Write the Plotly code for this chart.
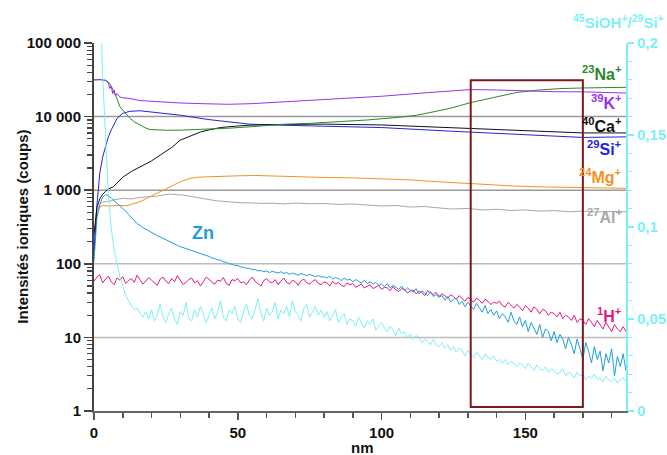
import plotly.graph_objects as go

# ---------------- data ----------------
# Common 1-nm depth grid for the noisy signals (Zn, H, SiOH/Si ratio)
DEPTH_NM = list(range(0, 186))

ZN = [110, 420, 640, 800, 870, 845, 785, 725, 665, 605, 560, 520, 470, 430, 392, 352, 335, 310, 296, 280,
      268, 256, 241, 232, 221, 211, 202, 193, 186, 178, 171, 166, 160, 155, 150, 146, 141, 137, 133, 129,
      126, 120, 118, 113, 112, 106, 105, 100, 99, 95, 95, 90, 90, 87, 87, 83, 84, 80, 81, 78,
      80, 76, 79, 77, 75, 78, 74, 76, 72, 75, 73, 70, 74, 71, 69, 72, 70, 67, 69, 66,
      67, 64, 68, 62, 65, 63, 59, 64, 60, 62, 57, 61, 58, 55, 60, 54, 57, 53, 56, 51,
      53, 49, 54, 47, 51, 48, 45, 50, 43, 47, 44, 41, 46, 39, 43, 40, 37, 42, 36, 38,
      35, 37, 32, 36, 30, 33, 34, 28, 31, 26, 30, 27, 24, 29, 25, 22, 27, 21, 24, 20,
      23, 18, 21, 19, 16, 22, 17, 15, 19, 14, 17, 12, 16, 13, 11, 15, 10, 13, 12, 9,
      12, 8.5, 11, 9.5, 7, 10, 8, 6, 9.5, 7, 5, 8.5, 6.5, 4.5, 7.5, 5, 6.5, 3.5, 6, 4.5, 7, 3, 5.5, 4, 6, 3.5]

H = [58, 66, 71, 55, 62, 68, 57, 52, 64, 60, 67, 54, 59, 63, 56, 70, 61, 53, 58, 65,
     60, 55, 51, 62, 66, 58, 54, 63, 57, 69, 60, 52, 56, 61, 64, 55, 59, 50, 57, 66,
     62, 56, 53, 60, 58, 65, 54, 51, 61, 59, 63, 55, 57, 52, 60, 66, 58, 54, 50, 59,
     63, 57, 55, 61, 52, 58, 64, 56, 53, 60, 57, 51, 59, 62, 55, 53, 58, 61, 54, 52,
     57, 55, 50, 58, 53, 56, 51, 49, 55, 52, 54, 48, 51, 53, 47, 50, 52, 46, 49, 51,
     45, 48, 47, 43, 49, 44, 42, 46, 45, 40, 43, 44, 39, 42, 41, 37, 43, 40, 38, 41,
     36, 39, 37, 34, 38, 36, 33, 37, 34, 31, 35, 33, 30, 34, 32, 29, 33, 31, 28, 30,
     29, 31, 27, 26, 30, 27, 25, 28, 26, 23, 27, 25, 22, 26, 24, 21, 24, 23, 20, 22,
     21, 19, 22, 18, 20, 19, 17, 20, 16, 18, 17, 15, 18, 16, 14, 17, 15, 13, 16, 14, 12, 15, 13, 12, 14, 12]

RATIO_SIOH_SI = [0.55, 0.36, 0.235, 0.182, 0.148, 0.118, 0.099, 0.088, 0.080, 0.073, 0.068, 0.063, 0.060, 0.057, 0.055, 0.056,
                 0.053, 0.051, 0.054, 0.050,
                 0.055, 0.049, 0.052, 0.058, 0.051, 0.048, 0.053, 0.056, 0.050, 0.047, 0.054, 0.052, 0.059, 0.050, 0.049, 0.055, 0.051, 0.057, 0.053, 0.048,
                 0.052, 0.056, 0.050, 0.054, 0.060, 0.051, 0.049, 0.055, 0.053, 0.057, 0.050, 0.048, 0.054, 0.058, 0.052, 0.050, 0.055, 0.061, 0.053, 0.049,
                 0.056, 0.052, 0.054, 0.059, 0.050, 0.055, 0.053, 0.057, 0.051, 0.060, 0.054, 0.052, 0.049, 0.056, 0.058, 0.051, 0.054, 0.057, 0.052, 0.055,
                 0.051, 0.054, 0.049, 0.052, 0.055, 0.048, 0.051, 0.053, 0.047, 0.050, 0.049, 0.046, 0.051, 0.048, 0.045, 0.049, 0.047, 0.050, 0.044, 0.046,
                 0.048, 0.045, 0.043, 0.046, 0.044, 0.041, 0.045, 0.042, 0.043, 0.040, 0.042, 0.039, 0.041, 0.040, 0.037, 0.039, 0.038, 0.036, 0.039, 0.036,
                 0.035, 0.037, 0.034, 0.036, 0.033, 0.035, 0.032, 0.034, 0.033, 0.030, 0.033, 0.031, 0.029, 0.032, 0.030, 0.028, 0.031, 0.029, 0.028, 0.030,
                 0.027, 0.028, 0.026, 0.028, 0.025, 0.027, 0.026, 0.024, 0.026, 0.025, 0.023, 0.026, 0.024, 0.022, 0.025, 0.023, 0.022, 0.024, 0.021, 0.023,
                 0.022, 0.020, 0.021, 0.023, 0.019, 0.021, 0.020, 0.018, 0.021, 0.019, 0.020, 0.017, 0.019, 0.018, 0.020, 0.017, 0.018, 0.016, 0.019, 0.017,
                 0.016, 0.018, 0.015, 0.017, 0.018, 0.016]

# Smoother signals, each with its own depth list (nm)
NA_DEPTH = [0, 2, 4, 5, 6, 6.7, 7.5, 8, 9, 10, 11, 12.5, 14, 16, 18, 19.5, 22, 25, 30, 35, 40, 47, 55, 65,
            75, 85, 95, 105, 112, 118, 124, 131, 140, 147, 155, 162, 170, 178, 185]
NA = [31500, 31800, 31200, 29500, 26000, 22800, 19000, 17500, 13600, 12300, 11000, 9500, 8500, 7640, 7000, 6680,
      6600, 6520, 6540, 6650, 6800, 6960, 7300, 7820, 8100, 8500, 9000, 9700, 10400, 11600, 13000, 15500,
      18700, 21300, 23000, 24000, 24500, 24800, 25000]

K_DEPTH = [0, 2, 4, 5, 5.5, 6, 6.5, 7, 7.5, 8, 9, 10, 12.5, 16, 19.5, 25, 30, 40, 47, 55, 65, 80, 100,
           115, 125, 131, 140, 150, 160, 170, 185]
K = [31500, 31800, 31000, 28500, 24000, 26000, 20500, 23000, 19000, 20500, 18500, 18000, 17600, 16500, 16200,
     15700, 15300, 14900, 14700, 15000, 15800, 17000, 18900, 21000, 22500, 23300, 23000, 22300, 21800, 21700, 20900]

CA_DEPTH = [0, 0.5, 1, 2, 3, 4, 5, 6.7, 8, 10, 13, 16, 20, 23, 27, 30, 34, 37, 40, 44, 50, 54, 65, 80,
            100, 124, 150, 170, 185]
CA = [250, 420, 580, 760, 880, 960, 1040, 1110, 1250, 1500, 1800, 2070, 2500, 2990, 3800, 4790, 5600, 6170,
      6600, 7110, 7450, 7640, 7820, 7900, 7700, 7030, 6400, 6000, 6000]

SI_DEPTH = [0, 0.5, 1, 2, 3, 4, 5, 6, 8, 10, 12.5, 16, 20, 23, 30, 40, 47, 54, 65, 80, 100, 124, 150, 170, 185]
SI = [150, 320, 620, 1700, 2800, 3900, 5300, 6600, 9400, 11100, 11800, 12000, 11600, 11200, 10450, 9100, 8470,
      7900, 7640, 7400, 7100, 6340, 5700, 5210, 5300]

MG_DEPTH = [0, 1, 2, 3, 5.5, 8, 11.5, 14, 16, 19, 21.8, 25, 27.6, 30, 33.4, 36, 39.2, 45, 50.8, 56,
            62.4, 70, 80, 90, 100, 110, 117, 124, 132, 140, 147, 155, 162, 170, 177, 185]
MG = [260, 450, 595, 620, 610, 625, 615, 660, 697, 800, 905, 1040, 1173, 1300, 1446, 1500, 1520, 1555, 1570, 1585,
      1550, 1530, 1490, 1470, 1430, 1380, 1320, 1270, 1230, 1170, 1135, 1110, 1095, 1080, 1070, 1060]

AL_DEPTH = [0, 1, 2, 3, 5, 7, 10, 13, 16, 19, 21.8, 24, 26.5, 29, 31, 34, 37, 40, 42.7, 46,
            50.8, 55, 58, 62.4, 66, 70, 75, 80, 85, 90, 95, 100, 105, 110, 115, 120, 124, 130, 135, 140,
            145, 150, 155, 160, 165, 170, 175, 180, 185]
AL = [220, 500, 640, 690, 700, 740, 775, 760, 797, 810, 830, 860, 885, 870, 858, 820, 775, 745, 718, 700,
      676, 672, 660, 665, 650, 668, 655, 660, 640, 650, 625, 610, 620, 590, 600, 570, 555, 565, 540, 550,
      530, 540, 520, 528, 510, 520, 505, 515, 510]

# Zoom box (nm, counts)
BOX_X = [131, 170]
BOX_Y = [1.13, 31200]

# Tick labels
Y_TICKVALS = [1, 10, 100, 1000, 10000, 100000]
Y_TICKTEXT = ["1", "10", "100", "1 000", "10 000", "100 000"]
Y2_TICKVALS = [0, 0.05, 0.1, 0.15, 0.2]
Y2_TICKTEXT = ["0", "0,05", "0,1", "0,15", "0,2"]
GRID_LEVELS = [10, 100, 1000, 10000]

# ---------------- styling ----------------
FONT = "Liberation Sans, Arial, sans-serif"
C_NA = "#2A8A2A"
C_K = "#9A32E6"
C_CA = "#111111"
C_SI = "#2424D6"
C_MG = "#F39224"
C_AL = "#A8A8A8"
C_H = "#E3197F"
C_ZN = "#1F9DE0"
C_RATIO = "#7CF0F6"

fig = go.Figure()

def add_line(x, y, color, yaxis="y", width=1.0):
    fig.add_trace(go.Scatter(x=x, y=y, mode="lines", yaxis=yaxis,
                             line=dict(color=color, width=width), showlegend=False,
                             hoverinfo="skip"))

add_line(AL_DEPTH, AL, C_AL)
add_line(MG_DEPTH, MG, C_MG)
add_line(DEPTH_NM, H, C_H)
add_line(DEPTH_NM, ZN, C_ZN)
add_line(SI_DEPTH, SI, C_SI)
add_line(CA_DEPTH, CA, C_CA)
add_line(NA_DEPTH, NA, C_NA)
add_line(K_DEPTH, K, C_K)
add_line(DEPTH_NM, RATIO_SIOH_SI, C_RATIO, yaxis="y2")

shapes = []
for g in GRID_LEVELS:
    shapes.append(dict(type="line", xref="paper", x0=0, x1=1, yref="y", y0=g, y1=g,
                       line=dict(color="#9a9a9a" if g >= 1000 else "#bdbdbd", width=1.5),
                       layer="below"))
shapes.append(dict(type="rect", xref="x", yref="y", x0=BOX_X[0], x1=BOX_X[1], y0=BOX_Y[0], y1=BOX_Y[1],
                   line=dict(color="#7A1A1A", width=2), fillcolor="rgba(0,0,0,0)", layer="above"))

minor_log = [m * d for d in [1, 10, 100, 1000, 10000] for m in range(2, 10)]

tickfont = dict(family=FONT, size=15, color="#111111", weight="bold")

def lab(text, color, x, y, size=16, xanchor="right"):
    return dict(text=text, x=x, y=y, xref="paper", yref="paper", showarrow=False,
                xanchor=xanchor, yanchor="middle",
                font=dict(family=FONT, size=size, color=color, weight="bold"))

annotations = [
    lab("<sup>23</sup>Na<sup>+</sup>", C_NA, 0.997, 0.919),
    lab("<sup>39</sup>K<sup>+</sup>", C_K, 0.997, 0.8405),
    lab("<sup>40</sup>Ca<sup>+</sup>", C_CA, 0.997, 0.778),
    lab("<sup>29</sup>Si<sup>+</sup>", C_SI, 0.997, 0.714),
    lab("<sup>24</sup>Mg<sup>+</sup>", C_MG, 0.997, 0.638),
    lab("<sup>27</sup>Al<sup>+</sup>", C_AL, 0.997, 0.530),
    lab("<sup>1</sup>H<sup>+</sup>", C_H, 0.997, 0.261),
    lab("Zn", C_ZN, 0.2055, 0.483, size=18, xanchor="center"),
    lab("<sup>45</sup>SiOH<sup>+</sup>/<sup>29</sup>Si<sup>+</sup>", C_RATIO, 1.075, 1.058, size=15),
    dict(text="Intensités ioniques (coups)", x=-0.136, y=0.5, xref="paper", yref="paper",
         showarrow=False, textangle=-90, xanchor="center", yanchor="middle",
         font=dict(family=FONT, size=15, color="#111111", weight="bold")),
    dict(text="nm", x=0.5056, y=-0.098, xref="paper", yref="paper", showarrow=False,
         xanchor="center", yanchor="middle",
         font=dict(family=FONT, size=15, color="#111111", weight="bold")),
]

fig.update_layout(
    width=667, height=455,
    margin=dict(l=94, r=41, t=43, b=44, autoexpand=False),
    paper_bgcolor="white", plot_bgcolor="white",
    showlegend=False,
    separators=", ",
    shapes=shapes,
    annotations=annotations,
    xaxis=dict(range=[0, 185], tickmode="linear", tick0=0, dtick=50, automargin=False,
               ticks="outside", ticklen=7, tickwidth=1.5, tickcolor="#555555",
               minor=dict(tickmode="linear", tick0=0, dtick=10, ticks="outside", ticklen=5,
                          tickwidth=1.5, tickcolor="#555555", showgrid=False),
               showline=True, linecolor="#666666", linewidth=2,
               showgrid=False, zeroline=False, tickfont=tickfont),
    yaxis=dict(type="log", range=[0, 5], tickmode="array", tickvals=Y_TICKVALS, ticktext=Y_TICKTEXT,
               automargin=False,
               ticks="outside", ticklen=8, tickwidth=1.5, tickcolor="#444444",
               minor=dict(tickmode="array", tickvals=minor_log, ticks="outside", ticklen=5,
                          tickwidth=1.2, tickcolor="#444444", showgrid=False),
               showline=True, linecolor="#444444", linewidth=2,
               showgrid=False, zeroline=False, tickfont=tickfont),
    yaxis2=dict(overlaying="y", side="right", range=[0, 0.2], tickmode="array",
                tickvals=Y2_TICKVALS, ticktext=Y2_TICKTEXT, automargin=False,
                ticks="outside", ticklen=6, tickwidth=1.5, tickcolor=C_RATIO,
                minor=dict(tickmode="linear", tick0=0, dtick=0.01, ticks="outside", ticklen=4,
                           tickwidth=1.2, tickcolor=C_RATIO, showgrid=False),
                showline=True, linecolor=C_RATIO, linewidth=2,
                showgrid=False, zeroline=False,
                tickfont=dict(family=FONT, size=15, color=C_RATIO, weight="bold")),
)

fig.write_html("out.html",
               config={"displayModeBar": False, "staticPlot": True},
               post_script="document.body.style.margin='0';document.body.style.padding='0';")
